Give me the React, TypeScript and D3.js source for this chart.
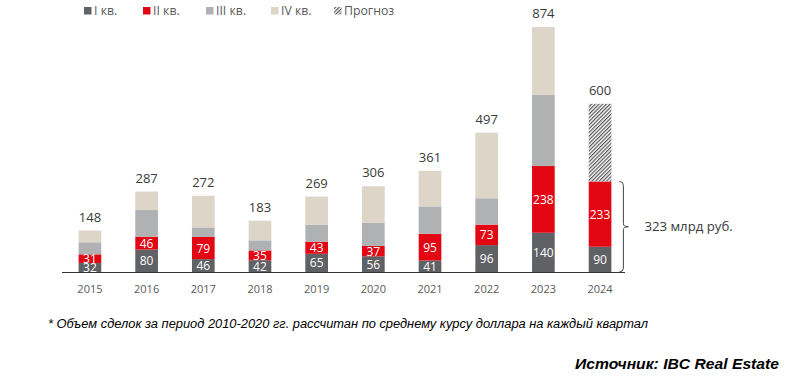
import { useRef, useEffect } from 'react';
import * as d3 from 'd3';

const years = ['2015', '2016', '2017', '2018', '2019', '2020', '2021', '2022', '2023', '2024'];
const q1 = [32, 80, 46, 42, 65, 56, 41, 96, 140, 90];
const q2 = [31, 46, 79, 35, 43, 37, 95, 73, 238, 233];
const q3 = [43, 95, 34, 36, 61, 83, 98, 94, 254, 0];
const q4 = [42, 66, 113, 70, 100, 130, 127, 234, 242, 0];
const forecast = [0, 0, 0, 0, 0, 0, 0, 0, 0, 277];
const totals = [148, 287, 272, 183, 269, 306, 361, 497, 874, 600];
const legendLabels = ['I кв.', 'II кв.', 'III кв.', 'IV кв.', 'Прогноз'];
const bracketText = '323 млрд руб.';

const colors = ['#5f6164', '#e30613', '#afb1b3', '#dcd5c8', 'url(#hatch)'];
const font = "'Open Sans', sans-serif";

export default function App() {
  const svgRef = useRef<SVGSVGElement>(null);

  useEffect(() => {
    const svg = d3.select(svgRef.current);
    svg.selectAll('*').remove();

    const defs = svg.append('defs');
    const pat = defs
      .append('pattern')
      .attr('id', 'hatch')
      .attr('width', 2.6)
      .attr('height', 2.6)
      .attr('patternUnits', 'userSpaceOnUse')
      .attr('patternTransform', 'rotate(45)');
    pat.append('rect').attr('width', 2.6).attr('height', 2.6).attr('fill', '#ffffff');
    pat.append('line').attr('x1', 0.6).attr('y1', 0).attr('x2', 0.6).attr('y2', 2.6)
      .attr('stroke', '#555').attr('stroke-width', 1.2);

    const x = d3.scaleBand().domain(years).range([61.6, 628.4]).paddingInner(0.6).paddingOuter(0.3);
    const y = d3.scaleLinear().domain([0, 874]).range([272, 27]);

    const table = years.map((yr, i) => ({
      year: yr, q1: q1[i], q2: q2[i], q3: q3[i], q4: q4[i], f: forecast[i],
    }));
    const keys = ['q1', 'q2', 'q3', 'q4', 'f'];
    const series = d3.stack<any>().keys(keys)(table);

    const g = svg.append('g');
    series.forEach((s, si) => {
      g.selectAll(null)
        .data(s.filter((d) => d[1] > d[0]))
        .join('rect')
        .attr('x', (d: any) => x(d.data.year)!)
        .attr('width', x.bandwidth())
        .attr('y', (d) => y(d[1]))
        .attr('height', (d) => y(d[0]) - y(d[1]))
        .attr('fill', colors[si]);
      if (si < 2) {
        g.selectAll(null)
          .data(s)
          .join('text')
          .attr('x', (d: any) => x(d.data.year)! + x.bandwidth() / 2)
          .attr('y', (d) => (y(d[0]) + y(d[1])) / 2 + 4.5)
          .attr('text-anchor', 'middle')
          .attr('font-family', font)
          .attr('font-size', 12)
          .attr('fill', '#ffffff')
          .text((d: any) => d.data[keys[si]]);
      }
    });

    g.selectAll(null)
      .data(table)
      .join('text')
      .attr('x', (d) => x(d.year)! + x.bandwidth() / 2)
      .attr('y', (d, i) => y(totals[i]) - 9)
      .attr('text-anchor', 'middle')
      .attr('font-family', font)
      .attr('font-size', 13)
      .attr('fill', '#3a3a3a')
      .text((d, i) => totals[i]);

    // baseline and year labels
    svg.append('line').attr('x1', 62).attr('x2', 625).attr('y1', 272.5).attr('y2', 272.5)
      .attr('stroke', '#333').attr('stroke-width', 1);
    svg.append('g')
      .attr('transform', 'translate(0,272)')
      .call(d3.axisBottom(x).tickSize(0).tickPadding(13))
      .call((a) => a.select('.domain').remove())
      .selectAll('text')
      .attr('font-family', font)
      .attr('font-size', 11)
      .attr('fill', '#595959');

    // bracket around 2024 Q1+Q2
    const bx = x('2024')! + x.bandwidth() + 8;
    const top = y(q1[9] + q2[9]);
    const bot = y(0);
    const mid = (top + bot) / 2;
    svg.append('path')
      .attr('d', `M${bx},${top} Q${bx + 4},${top} ${bx + 4},${top + 4} L${bx + 4},${mid - 3} Q${bx + 4},${mid} ${bx + 9},${mid} Q${bx + 4},${mid} ${bx + 4},${mid + 3} L${bx + 4},${bot - 4} Q${bx + 4},${bot} ${bx},${bot}`)
      .attr('fill', 'none').attr('stroke', '#444').attr('stroke-width', 1);
    svg.append('text').attr('x', bx + 25).attr('y', mid + 4.5)
      .attr('font-family', font).attr('font-size', 13.2).attr('fill', '#3a3a3a')
      .text(bracketText);

    // legend
    const legendX = [84, 143, 206, 271, 334];
    const lg = svg.append('g');
    legendLabels.forEach((lab, i) => {
      lg.append('rect').attr('x', legendX[i]).attr('y', 7).attr('width', 7.5).attr('height', 7.5)
        .attr('fill', colors[i]);
      lg.append('text').attr('x', legendX[i] + 10).attr('y', 15)
        .attr('font-family', font).attr('font-size', 12.3).attr('fill', '#595959').text(lab);
    });

    svg.append('text').attr('x', 48).attr('y', 328)
      .attr('font-family', "'Liberation Sans', Arial, sans-serif").attr('font-style', 'italic')
      .attr('font-size', 12.5).attr('fill', '#000')
      .attr('textLength', 600).attr('lengthAdjust', 'spacingAndGlyphs')
      .text('* Объем сделок за период 2010-2020 гг. рассчитан по среднему курсу доллара на каждый квартал');
    svg.append('text').attr('x', 575).attr('y', 369)
      .attr('font-family', "'Liberation Sans', Arial, sans-serif").attr('font-style', 'italic')
      .attr('font-weight', 'bold').attr('font-size', 15.3).attr('fill', '#000')
      .attr('textLength', 204).attr('lengthAdjust', 'spacingAndGlyphs')
      .text('Источник: IBC Real Estate');
  }, []);

  return (
    <svg ref={svgRef} width={804} height={388} style={{ position: 'absolute', left: 0, top: 0, background: '#fff' }} />
  );
}
